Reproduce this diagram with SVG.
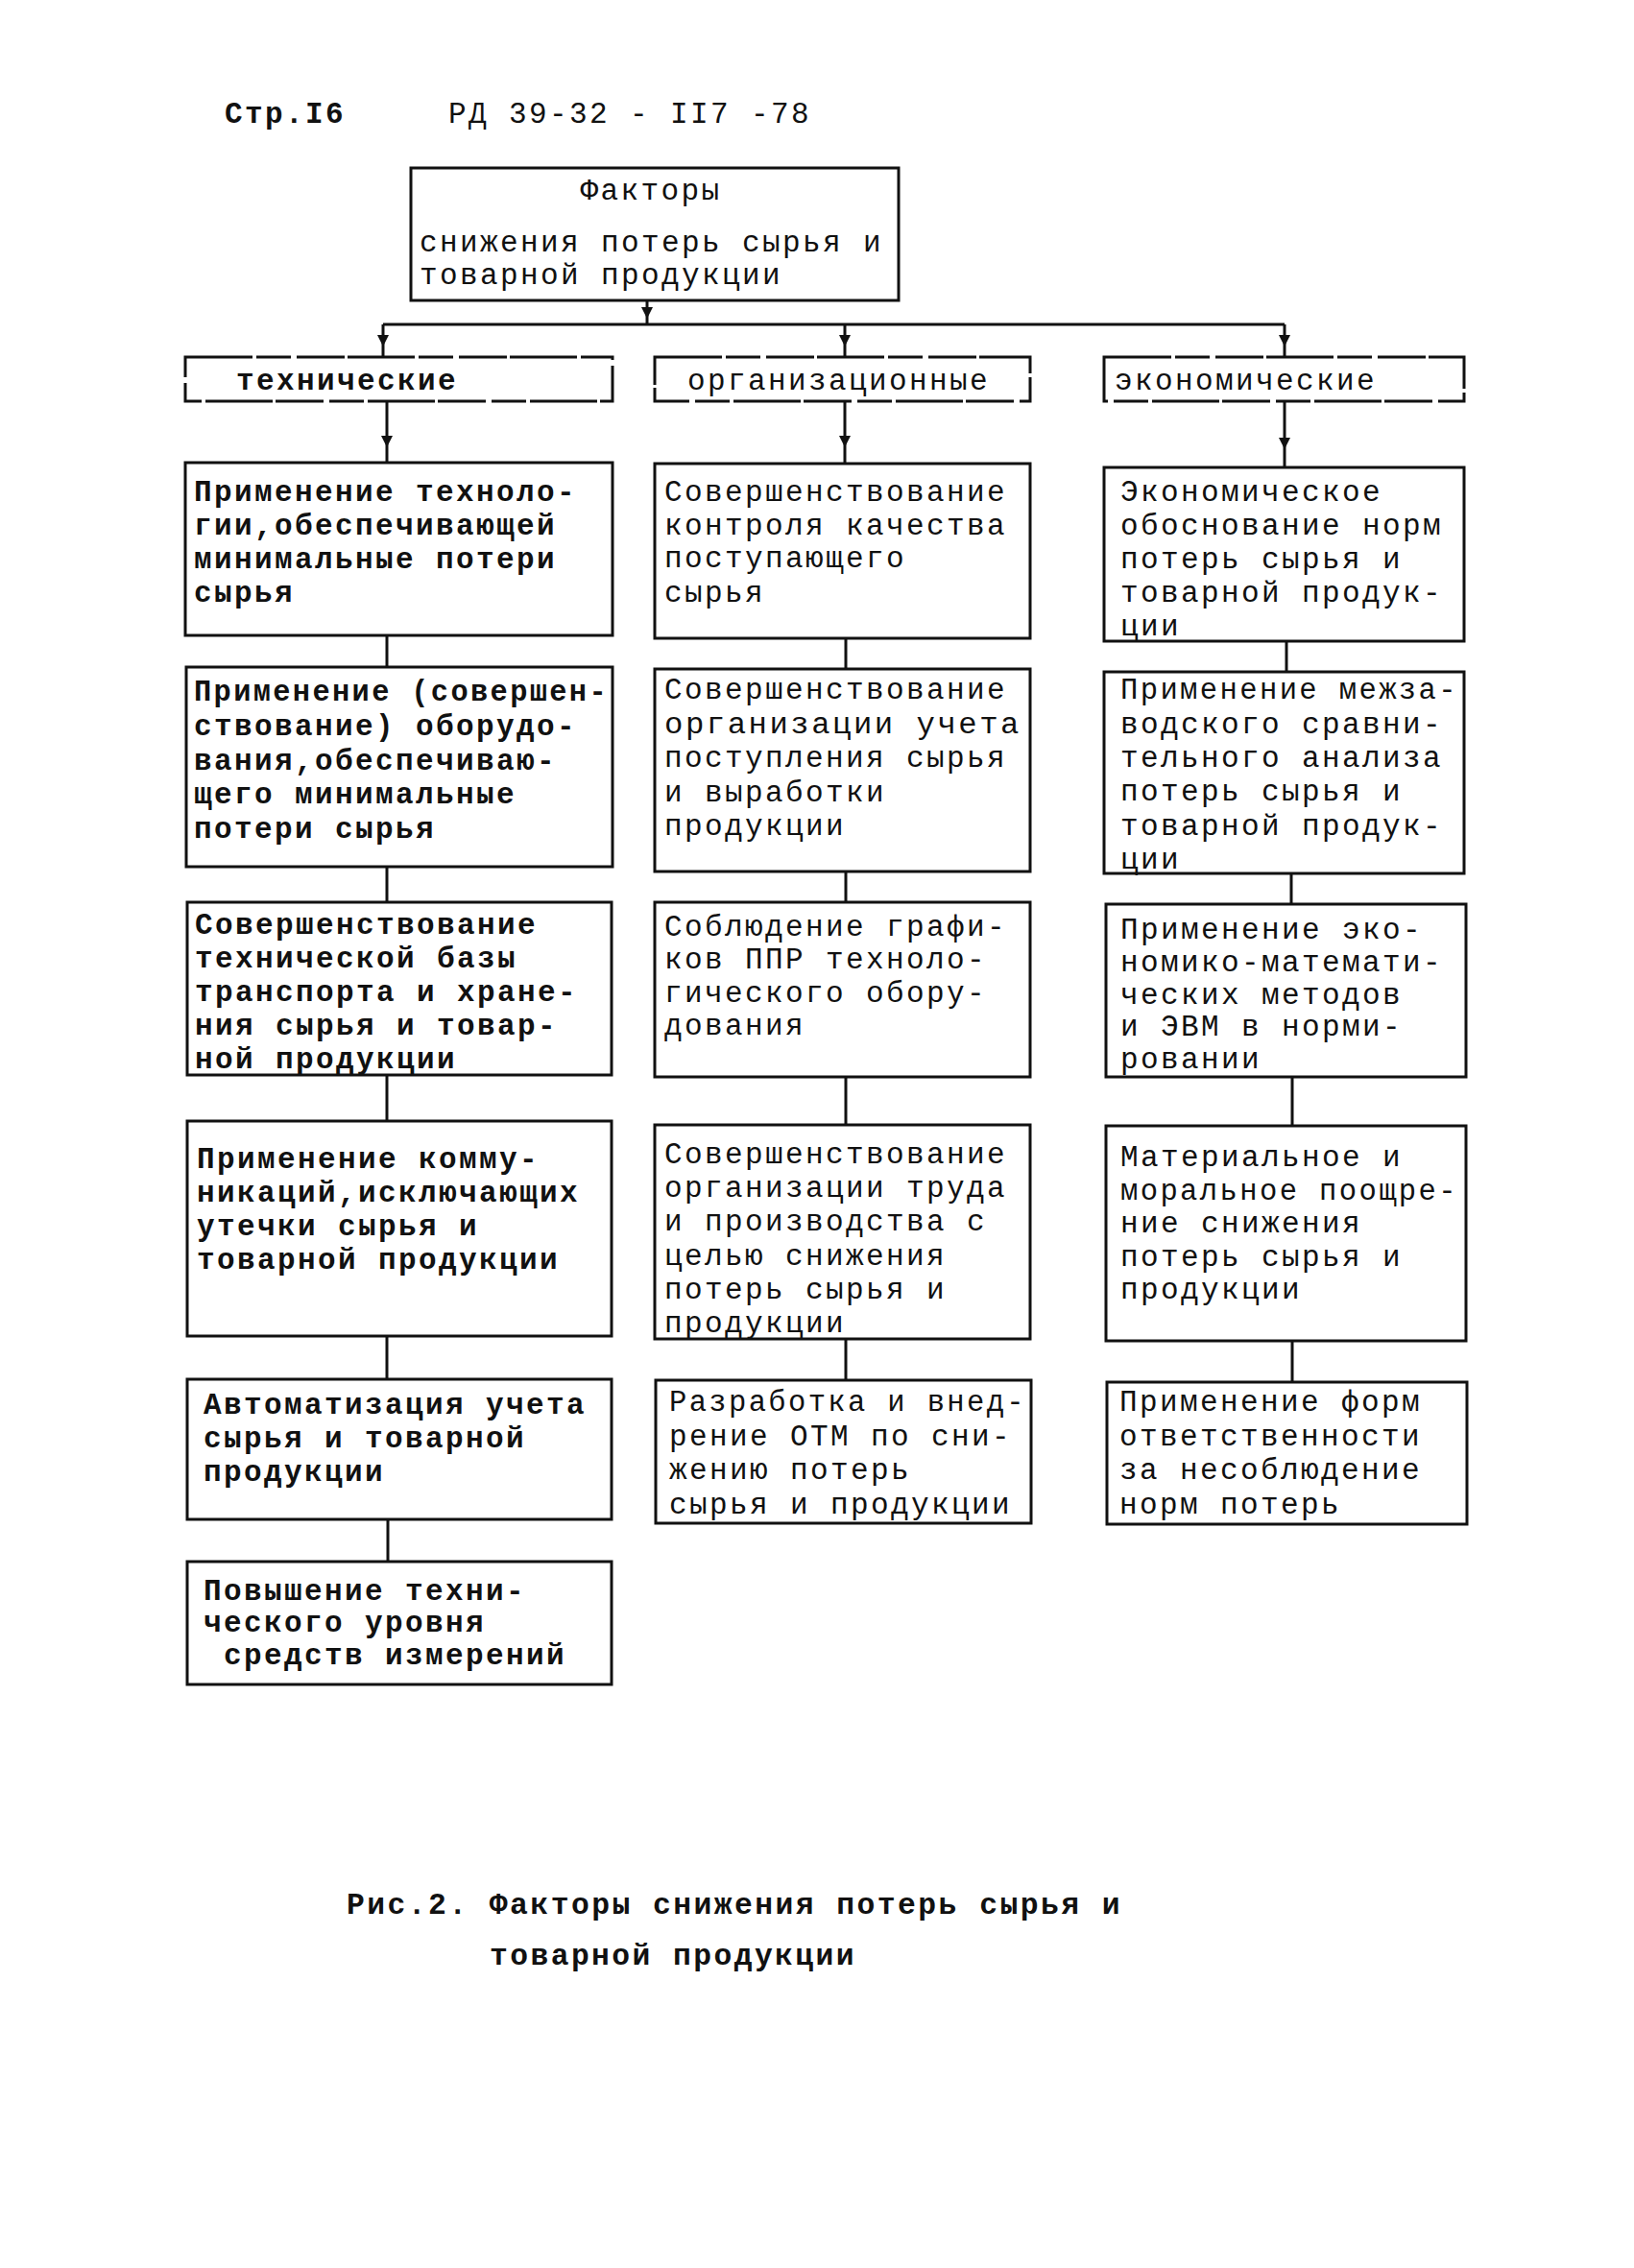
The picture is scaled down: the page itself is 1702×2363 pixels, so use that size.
<svg xmlns="http://www.w3.org/2000/svg" width="1702" height="2363" viewBox="0 0 1702 2363">
<style>
.bg{fill:#fff}
.box{fill:none;stroke:#111;stroke-width:3}
.cat{fill:none;stroke:#111;stroke-width:3;stroke-dasharray:70 4 36 6 50 3}
.t{font-family:"Liberation Mono","DejaVu Sans Mono",monospace;font-size:31px;letter-spacing:2.4px;fill:#111}
.b{font-weight:bold}
.con{fill:none;stroke:#111;stroke-width:3}
</style>
<defs>
<marker id="ah" viewBox="0 0 10 10" refX="5" refY="5" markerWidth="4" markerHeight="5" orient="auto" markerUnits="strokeWidth">
<path d="M0,0 L10,5 L0,10 z" fill="#111"/>
</marker>
</defs>
<rect class="bg" x="0" y="0" width="1702" height="2363"/>

<g id="header">
<text class="t b" x="234" y="128" font-size="33">Стр.I6</text>
<text class="t" x="467" y="128" font-size="33">РД 39-32 - II7 -78</text>
</g>

<g id="connectors">
<path class="con" d="M674,313 L674,326 L674,338" marker-mid="url(#ah)"/>
<path class="con" d="M399,338 L1338,338"/>
<path class="con" d="M399,338 L399,355 L399,372" marker-mid="url(#ah)"/>
<path class="con" d="M880,338 L880,355 L880,372" marker-mid="url(#ah)"/>
<path class="con" d="M1338,338 L1338,355 L1338,372" marker-mid="url(#ah)"/>
<path class="con" d="M403,418 L403,460 L403,482" marker-mid="url(#ah)"/>
<path class="con" d="M403,662 L403,695"/>
<path class="con" d="M403,903 L403,940"/>
<path class="con" d="M403,1120 L403,1168"/>
<path class="con" d="M403,1392 L403,1437"/>
<path class="con" d="M404,1583 L404,1627"/>
<path class="con" d="M880,418 L880,460 L880,483" marker-mid="url(#ah)"/>
<path class="con" d="M881,665 L881,697"/>
<path class="con" d="M881,908 L881,940"/>
<path class="con" d="M881,1122 L881,1172"/>
<path class="con" d="M881,1395 L881,1438"/>
<path class="con" d="M1338,418 L1338,462 L1338,487" marker-mid="url(#ah)"/>
<path class="con" d="M1340,668 L1340,700"/>
<path class="con" d="M1345,910 L1345,942"/>
<path class="con" d="M1346,1122 L1346,1173"/>
<path class="con" d="M1346,1397 L1346,1440"/>
</g>

<g id="root">
<rect class="box" x="428" y="175" width="508" height="138"/>
<text class="t" x="678" y="208" text-anchor="middle">Факторы</text>
<text class="t" x="437" y="262">снижения потерь сырья и</text>
<text class="t" x="437" y="296">товарной продукции</text>
</g>

<g id="cat-tech">
<rect class="cat" x="193" y="372" width="445" height="46"/>
<text class="t b" x="246" y="406">технические</text>
</g>
<g id="cat-org">
<rect class="cat" x="682" y="372" width="391" height="46"/>
<text class="t" x="716" y="406">организационные</text>
</g>
<g id="cat-econ">
<rect class="cat" x="1150" y="372" width="375" height="46"/>
<text class="t" x="1161" y="406">экономические</text>
</g>

<g id="L1">
<rect class="box" x="193" y="482" width="445" height="180"/>
<text class="t b" x="202" y="522">Применение техноло-</text>
<text class="t b" x="202" y="557">гии,обеспечивающей</text>
<text class="t b" x="202" y="592">минимальные потери</text>
<text class="t b" x="202" y="627">сырья</text>
</g>
<g id="L2">
<rect class="box" x="194" y="695" width="444" height="208"/>
<text class="t b" x="202" y="730" textLength="432" lengthAdjust="spacingAndGlyphs">Применение (совершен-</text>
<text class="t b" x="202" y="766">ствование) оборудо-</text>
<text class="t b" x="202" y="802">вания,обеспечиваю-</text>
<text class="t b" x="202" y="837">щего минимальные</text>
<text class="t b" x="202" y="873">потери сырья</text>
</g>
<g id="L3">
<rect class="box" x="195" y="940" width="442" height="180"/>
<text class="t b" x="203" y="973">Совершенствование</text>
<text class="t b" x="203" y="1008">технической базы</text>
<text class="t b" x="203" y="1043">транспорта и хране-</text>
<text class="t b" x="203" y="1078">ния сырья и товар-</text>
<text class="t b" x="203" y="1113">ной продукции</text>
</g>
<g id="L4">
<rect class="box" x="195" y="1168" width="442" height="224"/>
<text class="t b" x="205" y="1217">Применение комму-</text>
<text class="t b" x="205" y="1252">никаций,исключающих</text>
<text class="t b" x="205" y="1287">утечки сырья и</text>
<text class="t b" x="205" y="1322">товарной продукции</text>
</g>
<g id="L5">
<rect class="box" x="195" y="1437" width="442" height="146"/>
<text class="t b" x="212" y="1473">Автоматизация учета</text>
<text class="t b" x="212" y="1508">сырья и товарной</text>
<text class="t b" x="212" y="1543">продукции</text>
</g>
<g id="L6">
<rect class="box" x="195" y="1627" width="442" height="128"/>
<text class="t b" x="212" y="1667">Повышение техни-</text>
<text class="t b" x="212" y="1700">ческого уровня</text>
<text class="t b" x="233" y="1734">средств измерений</text>
</g>

<g id="M1">
<rect class="box" x="682" y="483" width="391" height="182"/>
<text class="t" x="692" y="522">Совершенствование</text>
<text class="t" x="692" y="557">контроля качества</text>
<text class="t" x="692" y="591">поступающего</text>
<text class="t" x="692" y="627">сырья</text>
</g>
<g id="M2">
<rect class="box" x="682" y="697" width="391" height="211"/>
<text class="t" x="692" y="728">Совершенствование</text>
<text class="t" x="692" y="764" textLength="372" lengthAdjust="spacingAndGlyphs">организации учета</text>
<text class="t" x="692" y="799">поступления сырья</text>
<text class="t" x="692" y="835">и выработки</text>
<text class="t" x="692" y="870">продукции</text>
</g>
<g id="M3">
<rect class="box" x="682" y="940" width="391" height="182"/>
<text class="t" x="692" y="975">Соблюдение графи-</text>
<text class="t" x="692" y="1009">ков ППР техноло-</text>
<text class="t" x="692" y="1044">гического обору-</text>
<text class="t" x="692" y="1078">дования</text>
</g>
<g id="M4">
<rect class="box" x="682" y="1172" width="391" height="223"/>
<text class="t" x="692" y="1212">Совершенствование</text>
<text class="t" x="692" y="1247">организации труда</text>
<text class="t" x="692" y="1282">и производства с</text>
<text class="t" x="692" y="1318">целью снижения</text>
<text class="t" x="692" y="1353">потерь сырья и</text>
<text class="t" x="692" y="1388">продукции</text>
</g>
<g id="M5">
<rect class="box" x="683" y="1438" width="391" height="149"/>
<text class="t" x="697" y="1470" textLength="372" lengthAdjust="spacingAndGlyphs">Разработка и внед-</text>
<text class="t" x="697" y="1506">рение ОТМ по сни-</text>
<text class="t" x="697" y="1541">жению потерь</text>
<text class="t" x="697" y="1577">сырья и продукции</text>
</g>

<g id="R1">
<rect class="box" x="1150" y="487" width="375" height="181"/>
<text class="t" x="1167" y="522">Экономическое</text>
<text class="t" x="1167" y="557">обоснование норм</text>
<text class="t" x="1167" y="592">потерь сырья и</text>
<text class="t" x="1167" y="627">товарной продук-</text>
<text class="t" x="1167" y="662">ции</text>
</g>
<g id="R2">
<rect class="box" x="1150" y="700" width="375" height="210"/>
<text class="t" x="1167" y="728" textLength="352" lengthAdjust="spacingAndGlyphs">Применение межза-</text>
<text class="t" x="1167" y="764">водского сравни-</text>
<text class="t" x="1167" y="799">тельного анализа</text>
<text class="t" x="1167" y="834">потерь сырья и</text>
<text class="t" x="1167" y="870">товарной продук-</text>
<text class="t" x="1167" y="905">ции</text>
</g>
<g id="R3">
<rect class="box" x="1152" y="942" width="375" height="180"/>
<text class="t" x="1167" y="978">Применение эко-</text>
<text class="t" x="1167" y="1012">номико-математи-</text>
<text class="t" x="1167" y="1046">ческих методов</text>
<text class="t" x="1167" y="1079">и ЭВМ в норми-</text>
<text class="t" x="1167" y="1113">ровании</text>
</g>
<g id="R4">
<rect class="box" x="1152" y="1173" width="375" height="224"/>
<text class="t" x="1167" y="1215">Материальное и</text>
<text class="t" x="1167" y="1250" textLength="352" lengthAdjust="spacingAndGlyphs">моральное поощре-</text>
<text class="t" x="1167" y="1284">ние снижения</text>
<text class="t" x="1167" y="1319">потерь сырья и</text>
<text class="t" x="1167" y="1353">продукции</text>
</g>
<g id="R5">
<rect class="box" x="1153" y="1440" width="375" height="148"/>
<text class="t" x="1166" y="1470">Применение форм</text>
<text class="t" x="1166" y="1506">ответственности</text>
<text class="t" x="1166" y="1541">за несоблюдение</text>
<text class="t" x="1166" y="1577">норм потерь</text>
</g>

<g id="caption">
<text class="t b" x="361" y="1994" textLength="808" lengthAdjust="spacingAndGlyphs">Рис.2. Факторы снижения потерь сырья и</text>
<text class="t b" x="510" y="2047" textLength="382" lengthAdjust="spacingAndGlyphs">товарной продукции</text>
</g>
</svg>
